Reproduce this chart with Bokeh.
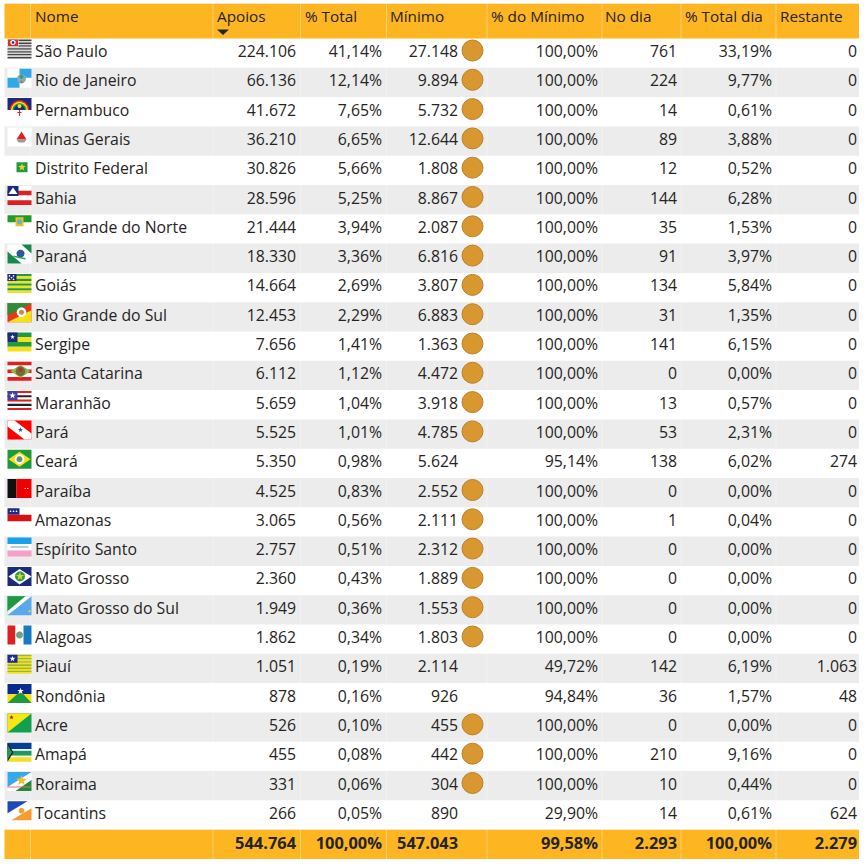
import math

from bokeh.core.properties import value
from bokeh.embed import file_html
from bokeh.models import Range1d
from bokeh.plotting import figure
from bokeh.resources import INLINE

# table data
nomes = ["São Paulo", "Rio de Janeiro", "Pernambuco", "Minas Gerais", "Distrito Federal", "Bahia",
         "Rio Grande do Norte", "Paraná", "Goiás", "Rio Grande do Sul", "Sergipe", "Santa Catarina",
         "Maranhão", "Pará", "Ceará", "Paraíba", "Amazonas", "Espírito Santo", "Mato Grosso",
         "Mato Grosso do Sul", "Alagoas", "Piauí", "Rondônia", "Acre", "Amapá", "Roraima", "Tocantins"]
apoios = [224106, 66136, 41672, 36210, 30826, 28596, 21444, 18330, 14664, 12453, 7656, 6112, 5659,
          5525, 5350, 4525, 3065, 2757, 2360, 1949, 1862, 1051, 878, 526, 455, 331, 266]
pct_total = [41.14, 12.14, 7.65, 6.65, 5.66, 5.25, 3.94, 3.36, 2.69, 2.29, 1.41, 1.12, 1.04, 1.01,
             0.98, 0.83, 0.56, 0.51, 0.43, 0.36, 0.34, 0.19, 0.16, 0.10, 0.08, 0.06, 0.05]
minimo = [27148, 9894, 5732, 12644, 1808, 8867, 2087, 6816, 3807, 6883, 1363, 4472, 3918, 4785,
          5624, 2552, 2111, 2312, 1889, 1553, 1803, 2114, 926, 455, 442, 304, 890]
pct_minimo = [100, 100, 100, 100, 100, 100, 100, 100, 100, 100, 100, 100, 100, 100, 95.14, 100, 100,
              100, 100, 100, 100, 49.72, 94.84, 100, 100, 100, 29.90]
no_dia = [761, 224, 14, 89, 12, 144, 35, 91, 134, 31, 141, 0, 13, 53, 138, 0, 1, 0, 0, 0, 0, 142, 36,
          0, 210, 10, 14]
pct_dia = [33.19, 9.77, 0.61, 3.88, 0.52, 6.28, 1.53, 3.97, 5.84, 1.35, 6.15, 0.00, 0.57, 2.31, 6.02,
           0.00, 0.04, 0.00, 0.00, 0.00, 0.00, 6.19, 1.57, 0.00, 9.16, 0.44, 0.61]
restante = [0, 0, 0, 0, 0, 0, 0, 0, 0, 0, 0, 0, 0, 0, 274, 0, 0, 0, 0, 0, 0, 1063, 48, 0, 0, 0, 624]

totais = [544764, 100.00, 547043, 99.58, 2293, 100.00, 2279]
cabecalhos = ["Nome", "Apoios", "% Total", "Mínimo", "% do Mínimo", "No dia", "% Total dia", "Restante"]

# layout in pixels
LEFT, RIGHT = 4, 859
TOP, BODY_TOP, ROW_H = 3, 38, 29.3
BODY_BOTTOM = BODY_TOP + ROW_H * len(nomes)
BOTTOM = 858.5
COL_EDGES = [30, 212.5, 300, 386, 486.5, 601.5, 680.5, 775.5]
HEADER_X = [34.5, 216.5, 304.5, 389.5, 490.5, 604.5, 684.5, 779.5]
VALUE_X = [295.5, 381.5, 457.5, 597.5, 676.5, 771.5, 856.5]
FONT = value("Open Sans")
FONT_SIZE = "15.8px"
TEXT_COLOR = "#252423"
ORANGE = "#FDB522"
STRIPE = "#ECECEC"


def inteiro(v):
    return f"{v:,}".replace(",", ".")


def pct(v):
    return f"{v:.2f}".replace(".", ",") + "%"


# flags are drawn in a 24x19 box, made of flat polygons
W, H = 24, 19
BLACK, WHITE, RED, GREEN = "#222222", "#FFFFFF", "#E02020", "#1E9A46"
YELLOW, BLUE, NAVY, SKY = "#F6E017", "#0A3C96", "#1C2A7C", "#2FA8E8"


def rect(x0, y0, x1, y1, c):
    return ([x0, x1, x1, x0], [y0, y0, y1, y1], c)


def poly(pts, c):
    return ([q[0] for q in pts], [q[1] for q in pts], c)


def disc(cx, cy, r, c):
    n = 14
    return ([cx + r * math.cos(2 * math.pi * k / n) for k in range(n)],
            [cy + r * math.sin(2 * math.pi * k / n) for k in range(n)], c)


def star(cx, cy, r, c):
    xs, ys = [], []
    for k in range(10):
        rr = r if k % 2 == 0 else r * 0.42
        a = -math.pi / 2 + k * math.pi / 5
        xs.append(cx + rr * math.cos(a))
        ys.append(cy + rr * math.sin(a))
    return (xs, ys, c)


def stripes(colors, h=H):
    step = h / len(colors)
    return [rect(0, k * step, W, (k + 1) * step, c) for k, c in enumerate(colors)]


FLAGS = [
    # São Paulo
    stripes(["#444444", "#D8D8D8"] * 6 + ["#444444"]) + [rect(0, 0, 11, 7, WHITE), rect(0.5, 0, 10.5, 6.5, "#D83030"),
                                                          disc(5.5, 3, 2.6, WHITE), disc(5.5, 3, 1.4, NAVY)],
    # Rio de Janeiro
    [rect(0, 0, W, H, WHITE), rect(12, 0, W, 9, SKY), rect(0, 9, 12, H, SKY),
     disc(14, 10, 4.5, "#7FB0B8"), disc(14, 8, 2, "#4F8F7F"), rect(13, 12, 15, 14.5, "#C06040")],
    # Pernambuco
    [rect(0, 0, W, H, WHITE), rect(0, 0, W, 12, NAVY), disc(12, 12, 10, RED), disc(12, 12, 8.5, YELLOW),
     disc(12, 12, 7, GREEN), disc(12, 12, 5.5, NAVY), rect(0, 12, W, H, WHITE),
     disc(12, 8, 2, YELLOW), rect(11.6, 12, 12.6, 18, RED), rect(10, 14, 14, 15, RED)],
    # Minas Gerais
    [rect(0, 0, W, H, WHITE), poly([(14, 4), (19, 12), (9, 12)], RED),
     poly([(9, 12), (19, 12), (17, 15), (11, 15)], "#9A9A9A")],
    # Distrito Federal
    [rect(0, 0, W, H, WHITE), rect(9, 5.5, 20, 15.5, "#1F9A3C"), star(14.5, 10.5, 4, "#E8D030")],
    # Bahia
    stripes([WHITE, RED, WHITE, RED]) + [rect(0, 0, 11, 10, NAVY), poly([(5.5, 1.5), (10, 8), (1, 8)], WHITE)],
    # Rio Grande do Norte
    [rect(0, 0, W, H, WHITE), rect(0, 0, W, 7, "#1E9A2E"), rect(8, 2, 16, 11, "#E8C020"), disc(12, 6.5, 2.6, "#60B0D8")],
    # Paraná
    [rect(0, 0, W, H, WHITE), poly([(14, 0), (24, 0), (24, 9)], "#16884C"), poly([(0, 7), (14, 19), (0, 19)], "#16884C"),
     disc(13, 9, 4, "#2A5AA0"), poly([(6, 11), (18, 13.5), (18, 15), (6, 12.5)], "#30A050")],
    # Goiás
    stripes([GREEN, YELLOW] * 4) + [rect(0, 0, 9, 7.2, NAVY), disc(2, 2, 0.8, WHITE), disc(6, 2, 0.8, WHITE),
                                     disc(4, 3.8, 0.8, WHITE), disc(2, 5.5, 0.8, WHITE), disc(6, 5.5, 0.8, WHITE)],
    # Rio Grande do Sul
    [rect(0, 0, W, H, "#E03A20"), poly([(0, 0), (24, 0), (0, 12)], "#2E8B3A"), poly([(24, 7), (24, 19), (0, 19)], YELLOW),
     disc(14, 9, 4.8, WHITE), disc(14, 9, 2.5, "#C08A5A")],
    # Sergipe
    stripes([GREEN, YELLOW, GREEN, YELLOW]) + [rect(0, 0, 10, 9.5, NAVY), star(5, 4.5, 2.5, WHITE)],
    # Santa Catarina
    stripes([RED, WHITE, RED, WHITE, RED]) + [poly([(3, 9.5), (13, 3), (23, 9.5), (13, 16)], "#90B850"),
                                               disc(13, 9.5, 4.8, "#6F6F30"), disc(13, 8, 2, "#B03030")],
    # Maranhão
    stripes([RED, WHITE, BLACK, WHITE, RED, WHITE, BLACK, WHITE, RED]) + [rect(0, 0, 10, 9, "#4040A8"),
                                                                            star(5, 4.5, 3.4, WHITE)],
    # Pará
    [rect(0, 0, W, H, "#FF0000"), poly([(0, 0), (7, 0), (24, 13), (24, 19), (17, 19), (0, 6)], WHITE),
     star(13, 9.5, 2.6, "#2060B0")],
    # Ceará
    [rect(0, 0, W, H, "#1E9A3C"), poly([(1, 9.5), (12, 2), (23, 9.5), (12, 17)], YELLOW),
     disc(12, 9.5, 4.8, WHITE), disc(12, 9.5, 3, "#5F8F7F")],
    # Paraíba
    [rect(0, 0, 9, H, "#101010"), rect(9, 0, W, H, "#F00000"), rect(17, 9, 18.5, 10, WHITE), rect(19.5, 9, 21, 10, WHITE)],
    # Amazonas
    [rect(0, 0, W, H, WHITE), rect(0, 0, 12, 6.5, "#1C2A8C"), rect(0, 6.5, W, 13, "#D81010"),
     disc(3, 3, 0.8, WHITE), disc(6, 3, 0.8, WHITE), disc(9, 3, 0.8, WHITE)],
    # Espírito Santo
    [rect(0, 0, W, 6.5, "#18A0E8"), rect(0, 6.5, W, 13, WHITE), rect(0, 13, W, H, "#F4A0C8"),
     rect(3, 9, 21, 10, "#70A0C8")],
    # Mato Grosso
    [rect(0, 0, W, H, NAVY), poly([(1, 9.5), (12, 2), (24, 9.5), (12, 17.5)], WHITE),
     disc(12.5, 9.5, 5, "#20A050"), star(12.5, 9.5, 4.2, "#F0C820")],
    # Mato Grosso do Sul
    [rect(0, 0, W, H, "#58A8EC"), poly([(0, 0), (18, 0), (0, 15)], "#1E9A3C"), poly([(18, 0), (24, 0), (0, 19), (0, 15)], WHITE),
     disc(22, 15, 1, YELLOW)],
    # Alagoas
    [rect(0, 0, 8, H, "#E02020"), rect(8, 0, 16, H, WHITE), rect(16, 0, W, H, "#1878C0"),
     disc(12, 9.5, 3.5, "#70A088")],
    # Piauí
    stripes(["#9DB820", YELLOW] * 6) + [rect(0, 0, 10, 8, "#1C2A9C"), star(5, 4, 3, WHITE)],
    # Rondônia
    [rect(0, 0, W, 10, "#0A2A90"), rect(0, 10, W, H, YELLOW), poly([(0, 19), (13, 7), (24, 19)], "#1E9A3C"),
     star(13, 7, 3.4, WHITE)],
    # Acre
    [rect(0, 0, W, H, "#10A050"), poly([(0, 0), (24, 0), (0, 19)], "#F5E616"), star(4, 4, 2.3, "#D81010")],
    # Amapá
    [rect(0, 0, W, 6.5, "#0A3C96"), rect(0, 6.5, W, 8, WHITE), rect(0, 8, W, 13, "#1E9A5C"), rect(0, 13, W, 14.5, WHITE),
     rect(0, 14.5, W, H, "#F2E020"), poly([(0, 0), (6, 9.5), (0, 19)], "#1A1A1A"), poly([(0, 2), (4.5, 9.5), (0, 17)], "#1E9A5C")],
    # Roraima
    [rect(0, 0, W, H, WHITE), poly([(0, 0), (24, 0), (0, 15)], "#35A8F0"), poly([(8, 19), (24, 8), (24, 19)], "#1E8A3C"),
     rect(0, 14.5, W, 15.5, "#E07070"), star(14, 8.5, 5.6, "#F0C020")],
    # Tocantins
    [rect(0, 0, W, H, WHITE), poly([(0, 0), (20, 0), (0, 12)], "#1E4AB8"), poly([(24, 7), (24, 19), (4, 19)], "#F79A30"),
     disc(14, 9.5, 2.8, "#F0A030")],
]

p = figure(
    width=859,
    height=859,
    x_range=Range1d(0, 859),
    y_range=Range1d(859, 0),
    output_backend="svg",
    toolbar_location=None,
    min_border=0,
)
p.axis.visible = False
p.grid.visible = False
p.outline_line_color = None

# striped rows
rows = list(range(len(nomes)))
row_top = [BODY_TOP + ROW_H * i for i in rows]
row_mid = [t + 12.5 for t in row_top]
stripe_rows = [t for i, t in zip(rows, row_top) if i % 2 == 1]
p.quad(left=LEFT, right=RIGHT, top=stripe_rows, bottom=[t + ROW_H for t in stripe_rows],
       fill_color=STRIPE, line_color=None)

# header and footer bands
p.quad(left=[LEFT, LEFT], right=[RIGHT, RIGHT], top=[TOP, BODY_BOTTOM], bottom=[BODY_TOP, BOTTOM],
       fill_color=ORANGE, line_color=None)

# faint cell borders
p.segment(x0=COL_EDGES, x1=COL_EDGES, y0=TOP, y1=BOTTOM, line_color="#FFFFFF", line_alpha=0.35, line_width=1)
p.segment(x0=[LEFT, LEFT], x1=[RIGHT, RIGHT], y0=[TOP, BODY_BOTTOM], y1=[TOP, BODY_BOTTOM],
          line_color="#FFFFFF", line_alpha=0.35, line_width=1)

# flags
flag_x, flag_y, flag_c = [], [], []
for t, shapes in zip(row_top, FLAGS):
    for xs, ys, c in shapes:
        # keep every shape inside the flag box
        flag_x.append([7 + min(max(v, 0), W) for v in xs])
        flag_y.append([t + 1 + min(max(v, 0), H) for v in ys])
        flag_c.append(c)
p.patches(flag_x, flag_y, fill_color=flag_c, line_color=None)

# header labels and sort arrow
p.text(x=HEADER_X, y=[TOP + 12] * len(HEADER_X), text=cabecalhos, text_font=FONT, text_font_size="15.3px",
       text_color=TEXT_COLOR, text_baseline="middle", text_align="left")
arrow_x = HEADER_X[1]
p.patch([arrow_x, arrow_x + 12, arrow_x + 6], [29, 29, 34.5], fill_color=TEXT_COLOR, line_color=None)

# body columns
p.text(x=[34.5] * len(nomes), y=row_mid, text=nomes, text_font=FONT, text_font_size=FONT_SIZE,
       text_color=TEXT_COLOR, text_baseline="middle", text_align="left")
colunas = [[inteiro(v) for v in apoios], [pct(v) for v in pct_total], [inteiro(v) for v in minimo],
           [pct(v) for v in pct_minimo], [inteiro(v) for v in no_dia], [pct(v) for v in pct_dia],
           [inteiro(v) for v in restante]]
for x, coluna in zip(VALUE_X, colunas):
    p.text(x=[x] * len(coluna), y=row_mid, text=coluna, text_font=FONT, text_font_size=FONT_SIZE,
           text_color=TEXT_COLOR, text_baseline="middle", text_align="right")

# medal next to the minimum when the target was reached
reached = [m for v, m in zip(pct_minimo, row_top) if v >= 100]
p.scatter(x=[472] * len(reached), y=[t + 12 for t in reached], size=21, fill_color="#D8982F",
          line_color="#B9802E", line_width=1)

# totals
rodape = [inteiro(totais[0]), pct(totais[1]), inteiro(totais[2]), pct(totais[3]), inteiro(totais[4]),
          pct(totais[5]), inteiro(totais[6])]
p.text(x=VALUE_X, y=[BODY_BOTTOM + 13] * len(VALUE_X), text=rodape, text_font=FONT, text_font_size="16.4px",
       text_font_style="bold", text_color=TEXT_COLOR, text_baseline="middle", text_align="right")

open("out.html", "w").write(file_html(p, INLINE))
